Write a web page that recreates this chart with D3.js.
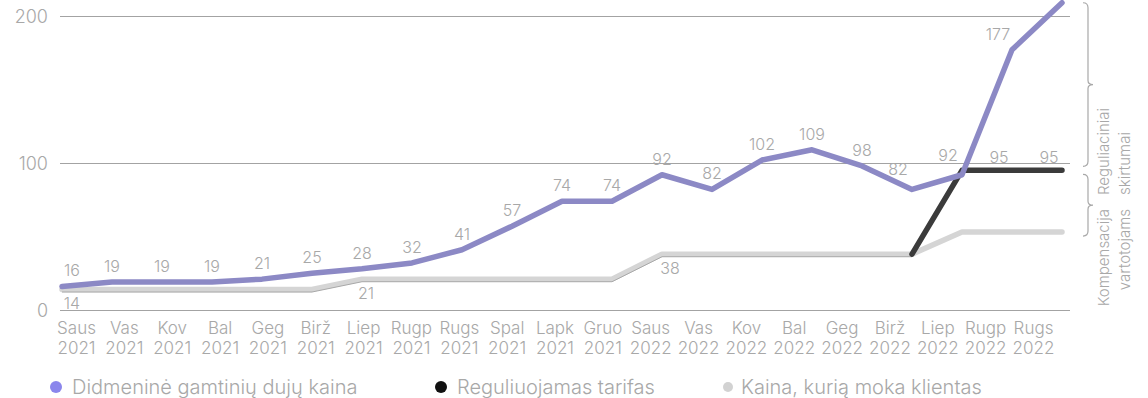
<!DOCTYPE html>
<html>
<head>
<meta charset="utf-8">
<script src="https://cdn.jsdelivr.net/npm/d3@7"></script>
<style>
  body { margin: 0; background: #fff; }
  svg { font-family: Inter, "Open Sans", sans-serif; font-weight: 300; }
  .lbl { fill: #a8a8a8; }
</style>
</head>
<body>
<svg width="1148" height="398"></svg>
<script>
// data
let categories = ["Saus 2021", "Vas 2021", "Kov 2021", "Bal 2021", "Geg 2021", "Birž 2021", "Liep 2021",
  "Rugp 2021", "Rugs 2021", "Spal 2021", "Lapk 2021", "Gruo 2021", "Saus 2022", "Vas 2022", "Kov 2022",
  "Bal 2022", "Geg 2022", "Birž 2022", "Liep 2022", "Rugp 2022", "Rugs 2022"];
let wholesale = [16, 19, 19, 19, 21, 25, 28, 32, 41, 57, 74, 74, 92, 82, 102, 109, 98, 82, 92, 177, 209];
let tariff = [14, 14, 14, 14, 14, 14, 21, 21, 21, 21, 21, 21, 38, 38, 38, 38, 38, 38, 95, 95, 95];
let client = [14, 14, 14, 14, 14, 14, 21, 21, 21, 21, 21, 21, 38, 38, 38, 38, 38, 38, 53, 53, 53];
let clientLabelIdx = [0, 6, 12];
let tariffLabelIdx = [19, 20];
let yTicks = [0, 100, 200];
let seriesNames = ["Didmeninė gamtinių dujų kaina", "Reguliuojamas tarifas", "Kaina, kurią moka klientas"];
let braceTexts = [["Reguliaciniai", "skirtumai"], ["Kompensacija", "vartotojams"]];

let svg = d3.select("svg");

let x = d3.scalePoint().domain(categories).range([62, 1062]);
// the axis labels sit on a slightly tighter spread than the points
let xLab = d3.scalePoint().domain(categories).range([76, 1033]);
let y = d3.scaleLinear().domain([0, 200]).range([310, 16]);

// gridlines
svg.append("g")
  .selectAll("line")
  .data(yTicks)
  .enter().append("line")
  .attr("x1", 60).attr("x2", 1070)
  .attr("y1", d => y(d) + 0.5).attr("y2", d => y(d) + 0.5)
  .attr("stroke", "#a3a3a3").attr("stroke-width", 1.2);

// y axis labels
let yAxis = svg.append("g")
  .attr("transform", "translate(48,0)")
  .call(d3.axisLeft(y).tickValues(yTicks).tickSize(0).tickPadding(0));
yAxis.select(".domain").remove();
yAxis.selectAll("text")
  .attr("class", "lbl")
  .style("font-size", "18px")
  .style("font-family", "Inter, sans-serif")
  .style("font-weight", 300)
  .attr("dy", "0.36em");

// x axis labels, two lines each
let xAxis = svg.append("g")
  .attr("transform", "translate(0,318)")
  .call(d3.axisBottom(xLab).tickSize(0).tickPadding(0));
xAxis.select(".domain").remove();
xAxis.selectAll("text").each(function (d) {
  let t = d3.select(this).text("").attr("class", "lbl")
    .style("font-size", "17px").style("font-family", "Inter, sans-serif").style("font-weight", 300)
    .attr("y", 0).attr("dy", null);
  let parts = d.split(" ");
  t.append("tspan").attr("x", 0).attr("y", 16).text(parts[0]);
  t.append("tspan").attr("x", 0).attr("y", 36).text(parts[1]);
});

let line = d3.line()
  .x((d, i) => x(categories[i]))
  .y(d => y(d));

// client price (light grey, thick)
svg.append("path")
  .datum(client)
  .attr("d", line)
  .attr("fill", "none")
  .attr("stroke", "#d5d5d5")
  .attr("stroke-width", 5.5)
  .attr("stroke-linecap", "round")
  .attr("stroke-linejoin", "round");

// tariff while it matches the client price: thin edge under the grey line
let tariffLine = d3.line()
  .defined((d, i) => i <= 17)
  .x((d, i) => x(categories[i]))
  .y(d => y(d));
svg.append("path")
  .datum(tariff)
  .attr("d", tariffLine)
  .attr("transform", "translate(0,2.6)")
  .attr("fill", "none")
  .attr("stroke", "#a9a9a9")
  .attr("stroke-width", 1);

// tariff after it splits off
let tariffLine2 = d3.line()
  .defined((d, i) => i >= 17)
  .x((d, i) => x(categories[i]))
  .y(d => y(d));
svg.append("path")
  .datum(tariff)
  .attr("d", tariffLine2)
  .attr("fill", "none")
  .attr("stroke", "#3b3b3b")
  .attr("stroke-width", 5.5)
  .attr("stroke-linecap", "round")
  .attr("stroke-linejoin", "round");

// wholesale price
svg.append("path")
  .datum(wholesale)
  .attr("d", line)
  .attr("fill", "none")
  .attr("stroke", "#8c89c5")
  .attr("stroke-width", 5.5)
  .attr("stroke-linecap", "round")
  .attr("stroke-linejoin", "round");

// data labels
let labels = svg.append("g").attr("class", "lbl")
  .style("font-size", "16px").attr("text-anchor", "middle");

labels.selectAll(".w")
  .data(wholesale.slice(0, -1))
  .enter().append("text")
  .attr("x", (d, i) => x(categories[i]) + (i === 0 ? 10 : i >= 17 ? -14 : 0))
  .attr("y", (d, i) => y(d) - (i >= 17 && i < 19 ? 14 : 10))
  .text(d => d);

labels.selectAll(".c")
  .data(clientLabelIdx)
  .enter().append("text")
  .attr("x", i => x(categories[i]) + (i === 0 ? 10 : i === 12 ? 8 : 4))
  .attr("y", i => y(client[i]) + 20)
  .text(i => client[i]);

labels.selectAll(".t")
  .data(tariffLabelIdx)
  .enter().append("text")
  .attr("x", i => x(categories[i]) - 13)
  .attr("y", i => y(tariff[i]) - 7)
  .text(i => tariff[i]);

// braces on the right
function brace(y0, y1, xb) {
  let m = (y0 + y1) / 2, w = 5;
  return "M" + (xb - w) + "," + y0 +
    " Q" + xb + "," + y0 + " " + xb + "," + (y0 + 5) +
    " L" + xb + "," + (m - 4) +
    " Q" + xb + "," + m + " " + (xb + w) + "," + m +
    " Q" + xb + "," + m + " " + xb + "," + (m + 4) +
    " L" + xb + "," + (y1 - 5) +
    " Q" + xb + "," + y1 + " " + (xb - w) + "," + y1;
}
let last = categories.length - 1;
let braceRanges = [[y(wholesale[last]), y(tariff[last]) - 4], [y(tariff[last]) + 4, y(client[last]) + 4]];
svg.append("g").selectAll("path")
  .data(braceRanges)
  .enter().append("path")
  .attr("d", d => brace(d[0], d[1], 1088))
  .attr("fill", "none")
  .attr("stroke", "#a8a8a8")
  .attr("stroke-width", 1.2);

// rotated notes
let notes = svg.append("g").attr("class", "lbl").style("font-size", "15px");
let n1 = notes.append("text")
  .attr("transform", "translate(1109,195) rotate(-90)")
  .attr("text-anchor", "start");
n1.append("tspan").attr("x", 0).attr("y", 0).text(braceTexts[0][0]);
n1.append("tspan").attr("x", 0).attr("y", 21).text(braceTexts[0][1]);
let n2 = notes.append("text")
  .attr("transform", "translate(1109,209) rotate(-90)")
  .attr("text-anchor", "end");
n2.append("tspan").attr("x", 0).attr("y", 0).text(braceTexts[1][0]);
n2.append("tspan").attr("x", 0).attr("y", 21).text(braceTexts[1][1]);

// legend
let legendColors = ["#8b86ec", "#111111", "#d2d2d2"];
let legendX = [56, 441, 728];
let legend = svg.append("g").selectAll("g")
  .data(seriesNames)
  .enter().append("g")
  .attr("transform", (d, i) => "translate(" + legendX[i] + ",387)");
legend.append("circle")
  .attr("r", (d, i) => i === 2 ? 5 : 6)
  .attr("fill", (d, i) => legendColors[i]);
legend.append("text")
  .attr("class", "lbl")
  .attr("x", (d, i) => i === 2 ? 13 : 16)
  .attr("dy", "0.35em")
  .style("font-size", "20px")
  .text(d => d);
</script>
</body>
</html>
